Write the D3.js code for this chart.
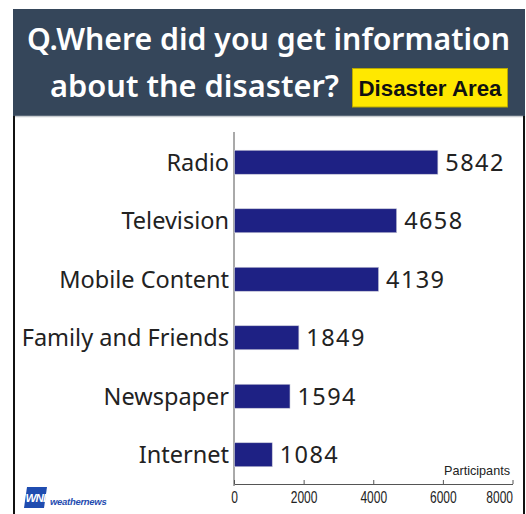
<!DOCTYPE html>
<html>
<head>
<meta charset="utf-8">
<script src="https://cdn.jsdelivr.net/npm/d3@7"></script>
<style>
  html, body { margin: 0; padding: 0; background: #fff; }
  svg { display: block; }
</style>
</head>
<body>
<svg id="chart" width="526" height="514"></svg>
<script>
// Survey answers: where respondents in the disaster area got their information
const categories = ["Radio", "Television", "Mobile Content", "Family and Friends", "Newspaper", "Internet"];
const participants = [5842, 4658, 4139, 1849, 1594, 1084];
const xTicks = [0, 2000, 4000, 6000, 8000];
const titleLines = ["Q.Where did you get information", "about the disaster?"];
const badgeText = "Disaster Area";
const unitLabel = "Participants";

const svg = d3.select("#chart");
const W = 526, H = 514;

// outer frame
svg.append("rect").attr("x", 0).attr("y", 0).attr("width", W).attr("height", H).attr("fill", "#fff");
svg.append("line").attr("x1", 14).attr("x2", 14).attr("y1", 9).attr("y2", H)
  .attr("stroke", "#111").attr("stroke-width", 2);
svg.append("line").attr("x1", 524).attr("x2", 524).attr("y1", 9).attr("y2", H)
  .attr("stroke", "#111").attr("stroke-width", 2);

// header band
svg.append("rect").attr("x", 13).attr("y", 9).attr("width", 512).attr("height", 107).attr("fill", "#35465a");
svg.append("line").attr("x1", 15).attr("x2", 523).attr("y1", 116.5).attr("y2", 116.5)
  .attr("stroke", "#c8ccd0").attr("stroke-width", 1.5);

svg.append("text").text(titleLines[0])
  .attr("x", 27).attr("y", 50)
  .attr("font-family", "Noto Sans, sans-serif").attr("font-weight", 600)
  .attr("font-size", 30).attr("fill", "#fff")
  .attr("textLength", 483).attr("lengthAdjust", "spacingAndGlyphs");
svg.append("text").text(titleLines[1])
  .attr("x", 50).attr("y", 97)
  .attr("font-family", "Noto Sans, sans-serif").attr("font-weight", 600)
  .attr("font-size", 30).attr("fill", "#fff")
  .attr("textLength", 289).attr("lengthAdjust", "spacingAndGlyphs");

// yellow badge
svg.append("rect").attr("x", 352.5).attr("y", 68.5).attr("width", 155).attr("height", 38.5)
  .attr("fill", "#ffe800").attr("stroke", "#b8a800").attr("stroke-width", 1);
svg.append("text").text(badgeText)
  .attr("x", 430).attr("y", 96).attr("text-anchor", "middle")
  .attr("font-family", "Liberation Sans, Arial, sans-serif").attr("font-weight", 700)
  .attr("font-size", 22).attr("fill", "#111")
  .attr("textLength", 143).attr("lengthAdjust", "spacingAndGlyphs");

// plot scales
const x = d3.scaleLinear().domain([0, 8000]).range([234, 512.5]);
const y = d3.scaleBand().domain(categories).range([133, 484])
  .paddingInner(0.59).paddingOuter(0.295);

// vertical baseline
svg.append("line").attr("x1", 234).attr("x2", 234).attr("y1", 132).attr("y2", 486)
  .attr("stroke", "#555").attr("stroke-width", 1);

// bars
svg.append("g").selectAll("rect").data(categories).join("rect")
  .attr("x", x(0) + 0.5)
  .attr("y", d => y(d))
  .attr("width", (d, i) => x(participants[i]) - x(0))
  .attr("height", y.bandwidth())
  .attr("fill", "#1e2184")
  .attr("stroke", "#c9cad8").attr("stroke-width", 0.6);

// category labels
svg.append("g").selectAll("text").data(categories).join("text")
  .text(d => d)
  .attr("x", 229)
  .attr("y", d => y(d) + y.bandwidth() / 2 + 8.5)
  .attr("text-anchor", "end")
  .attr("font-family", "Noto Sans, sans-serif").attr("font-size", 23.5)
  .attr("fill", "#222");

// value labels
svg.append("g").selectAll("text").data(categories).join("text")
  .text((d, i) => participants[i])
  .attr("x", (d, i) => x(participants[i]) + 8)
  .attr("y", d => y(d) + y.bandwidth() / 2 + 8.5)
  .attr("font-family", "Noto Sans, sans-serif").attr("font-size", 23.5)
  .attr("letter-spacing", 1.4)
  .attr("fill", "#222");

// x axis: short upward ticks, narrow labels below
const xAxis = d3.axisBottom(x).tickValues(xTicks).tickSizeInner(-4).tickSizeOuter(0)
  .tickPadding(0).tickFormat(d3.format("d"));
const gx = svg.append("g").attr("transform", "translate(0,484)").call(xAxis);
gx.select(".domain").attr("stroke", "#555");
gx.selectAll(".tick line").attr("stroke", "#555");
gx.selectAll(".tick text")
  .attr("y", 19).attr("dy", null)
  .attr("font-family", "Liberation Sans, sans-serif")
  .attr("font-size", 16).attr("fill", "#222")
  .attr("text-anchor", d => d === xTicks[xTicks.length - 1] ? "end" : "middle")
  .attr("transform", "scale(0.75,1)");

// unit label
svg.append("text").text(unitLabel)
  .attr("x", 510).attr("y", 475).attr("text-anchor", "end")
  .attr("font-family", "Liberation Sans, sans-serif")
  .attr("font-size", 13).attr("fill", "#222")
  .attr("textLength", 66).attr("lengthAdjust", "spacingAndGlyphs");

// weathernews mark
const logo = svg.append("g").attr("transform", "translate(24,487)");
logo.append("path").attr("d", "M3,0H23L20,21H0Z").attr("fill", "#1f4cb0");
logo.append("text").text("WNI")
  .attr("x", 11.5).attr("y", 15).attr("text-anchor", "middle")
  .attr("font-family", "Liberation Sans, Arial, sans-serif").attr("font-weight", 700)
  .attr("font-style", "italic").attr("font-size", 11.5).attr("fill", "#fff")
  .attr("letter-spacing", -0.8);
logo.append("text").text("weathernews")
  .attr("x", 26).attr("y", 18)
  .attr("font-family", "Liberation Sans, Arial, sans-serif").attr("font-weight", 700)
  .attr("font-style", "italic").attr("font-size", 9.5).attr("fill", "#1f4cb0")
  .attr("letter-spacing", -0.3);
</script>
</body>
</html>
